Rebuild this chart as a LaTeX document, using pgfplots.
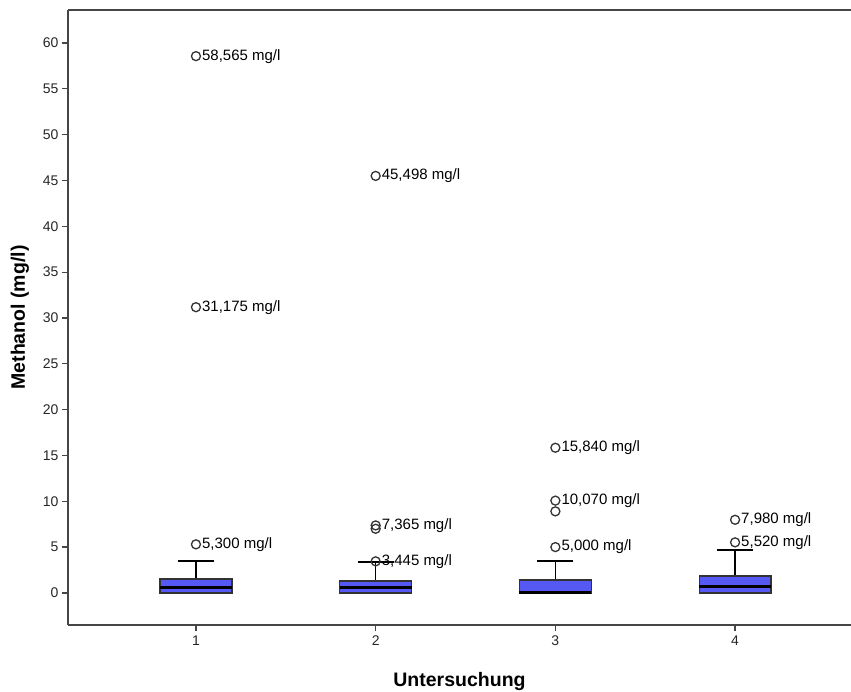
\documentclass[border=0pt]{standalone}
\usepackage{fontspec}
\setmainfont{Liberation Sans}
\usepackage{pgfplots}
\pgfplotsset{compat=1.18}
\usepgfplotslibrary{statistics}
\definecolor{boxblue}{RGB}{85,88,242}
\definecolor{axgray}{RGB}{70,70,70}
\begin{document}
\begin{tikzpicture}
\path[use as bounding box] (-68pt,-66pt) rectangle (783pt,625pt);
\begin{axis}[
  at={(0,0)}, anchor=south west,
  width=783pt, height=615pt, scale only axis,
  xmin=0.288, xmax=4.645, ymin=-3.5, ymax=63.6,
  axis x line*=box, axis y line*=left,
  axis line style={draw=axgray, line width=1.3pt},
  xtick={1,2,3,4}, ytick={0,5,...,60},
  xtick pos=bottom, ytick pos=left, tick align=outside,
  major tick length=6pt,
  tick style={draw=axgray, line width=1.2pt},
  /pgf/number format/assume math mode=true,
  tick label style={font=\fontsize{14}{16}\selectfont, text=black!85},
  xticklabel style={yshift=-1pt},
  xlabel={\bfseries Untersuchung},
  ylabel={\bfseries Methanol (mg/l)},
  label style={font=\fontsize{19.5}{23}\selectfont},
  xlabel style={yshift=-20pt},
  ylabel style={yshift=7pt},
  boxplot/draw direction=y,
  boxplot/every box/.style={fill=boxblue, draw=black!80, line width=1.3pt},
  boxplot/every whisker/.style={draw=black, line width=1.5pt},
  boxplot/every median/.style={draw=black, line width=3pt},
  boxplot/box extend=0.4,
  boxplot/whisker extend=0.2,
]
\addplot[boxplot prepared={draw position=1, lower whisker=0, lower quartile=0, median=0.55, upper quartile=1.53, upper whisker=3.5}] coordinates {};
\addplot[boxplot prepared={draw position=2, lower whisker=0, lower quartile=0, median=0.6, upper quartile=1.3, upper whisker=3.4}] coordinates {};
\addplot[boxplot prepared={draw position=3, lower whisker=0, lower quartile=0, median=0.1, upper quartile=1.42, upper whisker=3.5}] coordinates {};
\addplot[boxplot prepared={draw position=4, lower whisker=0, lower quartile=0, median=0.65, upper quartile=1.85, upper whisker=4.7}] coordinates {};
% unlabeled outliers
\addplot[only marks, mark=o, mark size=4.5pt, mark options={draw=black!80, line width=1.3pt}] coordinates {(2,7.0) (3,8.9)};
% labeled outliers
\addplot[only marks, mark=o, mark size=4.5pt, mark options={draw=black!80, line width=1.3pt},
  nodes near coords, point meta=explicit symbolic,
  nodes near coords style={anchor=west, inner sep=0pt, xshift=5.5pt, font=\fontsize{15}{17}\selectfont, text=black}]
coordinates {
 (1,58.565) [58,565 mg/l]
 (1,31.175) [31,175 mg/l]
 (1,5.3) [5,300 mg/l]
 (2,45.498) [45,498 mg/l]
 (2,7.365) [7,365 mg/l]
 (2,3.445) [3,445 mg/l]
 (3,15.84) [15,840 mg/l]
 (3,10.07) [10,070 mg/l]
 (3,5.0) [5,000 mg/l]
 (4,7.98) [7,980 mg/l]
 (4,5.52) [5,520 mg/l]
};
\end{axis}
\end{tikzpicture}
\end{document}
